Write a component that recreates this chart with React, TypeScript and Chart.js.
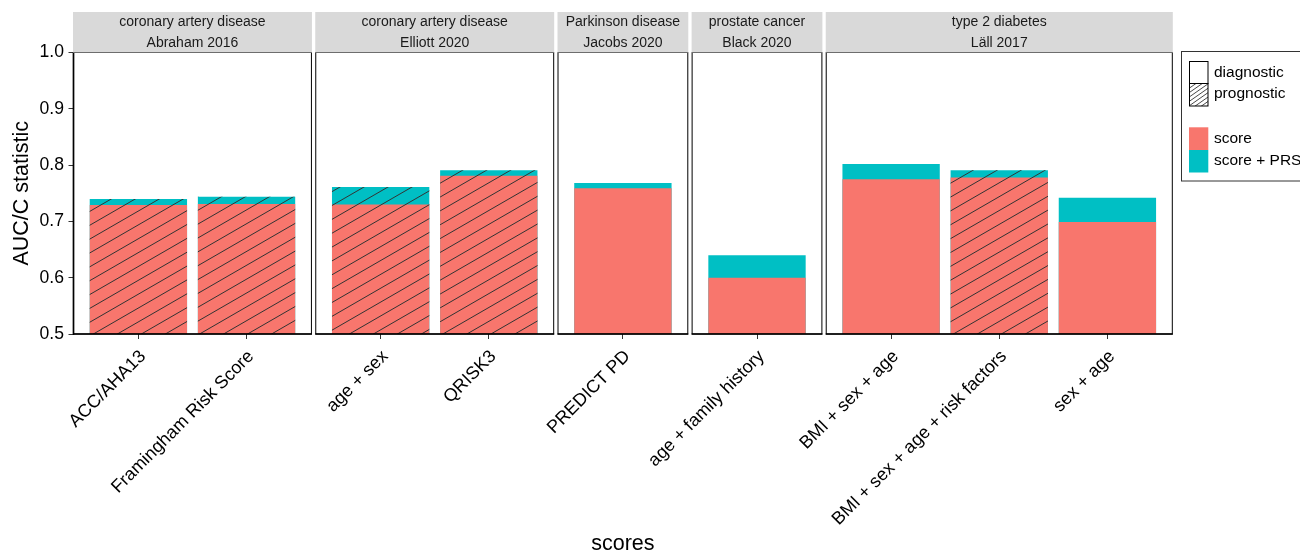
import React, { useEffect, useRef } from 'react';
import { Chart, registerables } from 'chart.js';

Chart.register(...registerables);

// ---------------- data ----------------
const facetDiseases = ['coronary artery disease', 'coronary artery disease', 'Parkinson disease', 'prostate cancer', 'type 2 diabetes'];
const facetStudies = ['Abraham 2016', 'Elliott 2020', 'Jacobs 2020', 'Black 2020', 'Läll 2017'];
const scoreNames = ['ACC/AHA13', 'Framingham Risk Score', 'age + sex', 'QRISK3', 'PREDICT PD', 'age + family history', 'BMI + sex + age', 'BMI + sex + age + risk factors', 'sex + age'];
const scoreFacet = [0, 0, 1, 1, 2, 3, 4, 4, 4];
const aucScore = [0.729, 0.731, 0.730, 0.781, 0.759, 0.600, 0.775, 0.778, 0.699];
const aucScorePRS = [0.740, 0.744, 0.761, 0.791, 0.768, 0.640, 0.802, 0.791, 0.742];
const scoreKind = ['prognostic', 'prognostic', 'prognostic', 'prognostic', 'diagnostic', 'diagnostic', 'diagnostic', 'prognostic', 'diagnostic'];
const yTickValues = [0.5, 0.6, 0.7, 0.8, 0.9, 1.0];
const seriesNames = ['score', 'score + PRS'];
const kindNames = ['diagnostic', 'prognostic'];

// ---------------- styling / layout constants ----------------
const FONT = "'Liberation Sans', Arial, Helvetica, sans-serif";
const RED = '#F8766D';
const TEAL = '#00BFC4';
const EXPAND = 0.6; // discrete-axis expansion per side (units)
const GAP = 0.04; // space between facet panels (units)

const facetCounts = facetStudies.map((_, f) => scoreFacet.filter((v) => v === f).length);
const facetStart: number[] = [];
let accum = 0;
facetCounts.forEach((n) => {
  facetStart.push(accum);
  accum += n - 1 + 2 * EXPAND + GAP;
});
const xMax = accum - GAP;
const facetEnd = facetStart.map((s, f) => s + facetCounts[f] - 1 + 2 * EXPAND);
const xPos = scoreNames.map((_, i) => {
  const f = scoreFacet[i];
  const k = scoreFacet.slice(0, i).filter((v) => v === f).length;
  return facetStart[f] + EXPAND + k;
});

function hatch(ctx: CanvasRenderingContext2D, left: number, top: number, right: number, bottom: number, angleDeg: number, spacing: number, color: string, width: number) {
  ctx.save();
  ctx.beginPath();
  ctx.rect(left, top, right - left, bottom - top);
  ctx.clip();
  const a = (angleDeg * Math.PI) / 180;
  const dx = Math.cos(a), dy = -Math.sin(a);
  const nx = Math.sin(a), ny = Math.cos(a);
  const cx = (left + right) / 2, cy = (top + bottom) / 2;
  const R = Math.hypot(right - left, bottom - top);
  const n = Math.ceil(R / spacing) + 1;
  ctx.strokeStyle = color;
  ctx.lineWidth = width;
  ctx.beginPath();
  for (let k = -n; k <= n; k++) {
    const px = cx + nx * k * spacing;
    const py = cy + ny * k * spacing;
    ctx.moveTo(px - dx * R, py - dy * R);
    ctx.lineTo(px + dx * R, py + dy * R);
  }
  ctx.stroke();
  ctx.restore();
}

const facetPlugin = {
  id: 'facetPlugin',
  afterDatasetsDraw(chart: any) {
    const ctx: CanvasRenderingContext2D = chart.ctx;
    const area = chart.chartArea;
    const xs = chart.scales.x;
    const m0 = chart.getDatasetMeta(0);
    const m1 = chart.getDatasetMeta(1);
    // hatching for prognostic scores
    scoreNames.forEach((_, i) => {
      if (scoreKind[i] !== 'prognostic') return;
      const e0 = m0.data[i].getProps(['x', 'y', 'width'], true);
      const e1 = m1.data[i].getProps(['x', 'y', 'width'], true);
      const left = e0.x - e0.width / 2;
      const right = e0.x + e0.width / 2;
      const top = Math.min(e0.y, e1.y);
      hatch(ctx, left, top, right, area.bottom, 30, 12, '#333333', 1);
    });
    // panels + strips
    facetStudies.forEach((study, f) => {
      const l = xs.getPixelForValue(facetStart[f]);
      const r = xs.getPixelForValue(facetEnd[f]);
      ctx.save();
      ctx.strokeStyle = '#000';
      ctx.lineWidth = 1;
      ctx.strokeRect(l, area.top, r - l, area.bottom - area.top);
      // x axis line
      ctx.lineWidth = 1.7;
      ctx.beginPath();
      ctx.moveTo(l - 0.5, area.bottom);
      ctx.lineTo(r + 0.5, area.bottom);
      ctx.stroke();
      if (f === 0) {
        ctx.beginPath();
        ctx.moveTo(l, area.top);
        ctx.lineTo(l, area.bottom + 0.85);
        ctx.stroke();
      }
      // strip
      const sTop = 12;
      const sBottom = area.top;
      ctx.fillStyle = '#D9D9D9';
      ctx.fillRect(l - 0.5, sTop, r - l + 1, sBottom - sTop);
      ctx.fillStyle = '#1A1A1A';
      ctx.font = `14px ${FONT}`;
      ctx.textAlign = 'center';
      ctx.textBaseline = 'middle';
      const cy = (sTop + sBottom) / 2;
      ctx.fillText(facetDiseases[f], (l + r) / 2, cy - 10.4);
      ctx.fillText(study, (l + r) / 2, cy + 10.4);
      ctx.restore();
    });
  },
  afterDraw(chart: any) {
    const ctx: CanvasRenderingContext2D = chart.ctx;
    ctx.save();
    // legend box
    ctx.strokeStyle = '#333333';
    ctx.lineWidth = 1;
    ctx.strokeRect(1181.5, 51.5, 200, 129.5);
    const kx = 1189.5, kw = 18.5;
    // diagnostic key
    ctx.fillStyle = '#fff';
    ctx.fillRect(kx, 61.5, kw, 22);
    // prognostic key
    ctx.fillRect(kx, 83.5, kw, 22.5);
    hatch(ctx, kx, 83.5, kx + kw, 106, 35, 3.6, '#1a1a1a', 0.8);
    ctx.strokeStyle = '#000';
    ctx.lineWidth = 1;
    ctx.strokeRect(kx, 61.5, kw, 22);
    ctx.strokeRect(kx, 83.5, kw, 22.5);
    // fill keys
    ctx.fillStyle = RED;
    ctx.fillRect(1189, 127.3, 19.3, 22.7);
    ctx.fillStyle = TEAL;
    ctx.fillRect(1189, 150, 19.3, 22.5);
    // texts
    ctx.fillStyle = '#000';
    ctx.font = `15.5px ${FONT}`;
    ctx.textAlign = 'left';
    ctx.textBaseline = 'middle';
    ctx.fillText(kindNames[0], 1214, 72.4);
    ctx.fillText(kindNames[1], 1214, 93.9);
    ctx.fillText(seriesNames[0], 1214, 138.7);
    ctx.fillText(seriesNames[1], 1214, 161.1);
    ctx.restore();
  },
};

export default function App() {
  const ref = useRef<HTMLCanvasElement>(null);
  useEffect(() => {
    document.body.style.margin = '0';
    const chart = new Chart(ref.current as HTMLCanvasElement, {
      type: 'bar',
      data: {
        datasets: [
          {
            label: seriesNames[0],
            data: xPos.map((x, i) => ({ x, y: aucScore[i] })),
            backgroundColor: RED,
            borderWidth: 0,
            grouped: false,
            order: 0,
            categoryPercentage: 1,
            barPercentage: 0.9,
          } as any,
          {
            label: seriesNames[1],
            data: xPos.map((x, i) => ({ x, y: aucScorePRS[i] })),
            backgroundColor: TEAL,
            borderWidth: 0,
            grouped: false,
            order: 1,
            categoryPercentage: 1,
            barPercentage: 0.9,
          } as any,
        ],
      },
      options: {
        responsive: false,
        devicePixelRatio: 1,
        animation: false,
        layout: { padding: { left: 0, top: 52.5, right: 127.7, bottom: 0 } },
        plugins: { legend: { display: false }, tooltip: { enabled: false } },
        scales: {
          x: {
            type: 'linear',
            min: 0,
            max: xMax,
            offset: false,
            grid: { display: true, offset: false, drawOnChartArea: false, drawTicks: true, tickLength: 5, color: '#333333', lineWidth: 1 },
            border: { display: false },
            afterBuildTicks: (scale: any) => {
              scale.ticks = xPos.map((v) => ({ value: v }));
            },
            afterFit: (scale: any) => {
              scale.height = 221;
            },
            ticks: {
              autoSkip: false,
              minRotation: 45,
              maxRotation: 45,
              padding: 7,
              labelOffset: 4.6,
              color: '#000',
              font: { family: FONT, size: 18, lineHeight: 1.2 },
              callback: (_v: any, i: number) => scoreNames[i],
            },
            title: {
              display: true,
              text: 'scores',
              color: '#000',
              font: { family: FONT, size: 21.5, lineHeight: 1 },
              padding: { top: 0, bottom: 0 },
            },
          },
          y: {
            type: 'linear',
            min: 0.5,
            max: 1.0,
            stacked: false,
            grid: { display: true, drawOnChartArea: false, drawTicks: true, tickLength: 5, color: '#333333', lineWidth: 1 },
            border: { display: false },
            afterBuildTicks: (scale: any) => {
              scale.ticks = yTickValues.map((v) => ({ value: v }));
            },
            afterFit: (scale: any) => {
              scale.width = 73.5;
            },
            ticks: {
              padding: 4.5,
              color: '#000',
              font: { family: FONT, size: 17.6 },
              callback: (v: any) => Number(v).toFixed(1),
            },
            title: {
              display: true,
              text: 'AUC/C statistic',
              color: '#000',
              font: { family: FONT, size: 21.5, lineHeight: 1 },
              padding: { top: 11, bottom: 0 },
            },
          },
        },
      } as any,
      plugins: [facetPlugin],
    });
    return () => chart.destroy();
  }, []);
  return (
    <div style={{ position: 'fixed', left: 0, top: 0, width: 1300, height: 555, background: '#fff' }}>
      <canvas ref={ref} width={1300} height={555} style={{ display: 'block', width: 1300, height: 555 }} />
    </div>
  );
}
